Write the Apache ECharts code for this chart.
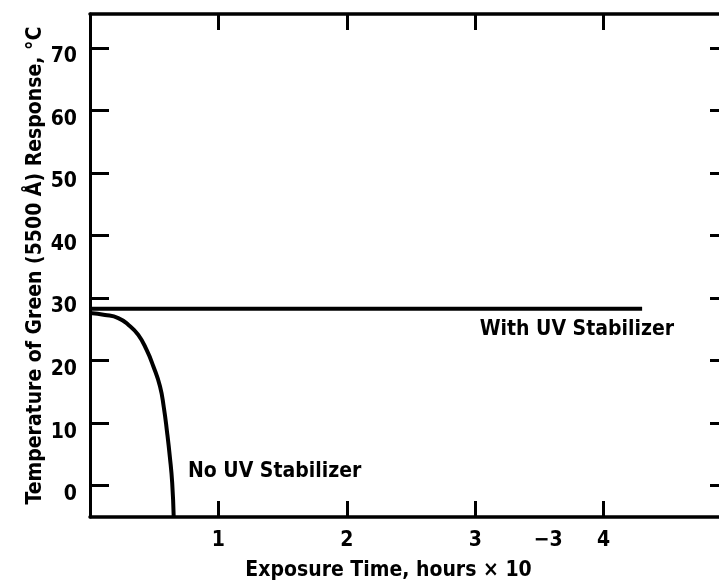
<!DOCTYPE html>
<html>
<head>
<meta charset="utf-8">
<title>Green response vs exposure time</title>
<script src="https://cdn.jsdelivr.net/npm/echarts@6/dist/echarts.min.js"></script>
<style>
  html, body { margin: 0; padding: 0; background: #fff; }
  #chart { width: 719px; height: 584px; }
</style>
</head>
<body>
<div id="chart"></div>
<script>
// Exposure time (hours x 10^-3) and temperature of green (5500 Å) response, °C
const timeWithUV = [0, 4.3];
const tempWithUV = [28.3, 28.3];

const timeNoUV = [0, 0.117, 0.22, 0.30, 0.376, 0.441, 0.493, 0.545, 0.575, 0.600, 0.622, 0.640, 0.652];
const tempNoUV = [27.6, 27.3, 26.8, 25.7, 24.1, 21.7, 19.1, 15.9, 12.5, 8.6, 4.6, 0.5, -5];

const xTicks = [1, 2, 3, 4];
const yTicks = [0, 10, 20, 30, 40, 50, 60, 70];

const noteText = ['With UV Stabilizer', 'No UV Stabilizer'];
const noteTime = [3.035, 0.763];
const noteTemp = [24.9, 2.2];

const FONT = '"Liberation Sans Narrow", "DejaVu Sans Condensed", "Roboto Condensed", sans-serif';
const INK = '#000';

const pairs = (xs, ys) => xs.map((x, i) => [x, ys[i]]);

const chart = echarts.init(document.getElementById('chart'), null, { renderer: 'canvas' });

const textBase = { color: INK, fontFamily: FONT, fontWeight: 'bold', fontSize: 21 };

chart.setOption({
  animation: false,
  backgroundColor: '#fff',
  grid: { left: 90, top: 14, right: -13, bottom: 67, containLabel: false, outerBoundsMode: 'none' },
  xAxis: [
    {
      type: 'value', position: 'bottom', min: 0, max: 5,
      axisLine: { show: true, onZero: false, lineStyle: { color: INK, width: 3.5 } },
      axisTick: { show: true, inside: true, length: 16, customValues: xTicks, lineStyle: { color: INK, width: 3 } },
      axisLabel: { show: true, customValues: xTicks, margin: 13, ...textBase },
      splitLine: { show: false },
      name: '{n|Exposure Time, hours × 10}{s|−3}',
      nameLocation: 'middle',
      nameGap: 13,
      nameMoveOverlap: false,
      nameTextStyle: {
        ...textBase,
        padding: [0, 14, 0, 0],
        rich: {
          n: { ...textBase, verticalAlign: 'bottom' },
          s: { ...textBase, verticalAlign: 'bottom', padding: [0, 0, 30, 2] }
        }
      }
    },
    {
      type: 'value', position: 'top', min: 0, max: 5,
      axisLine: { show: true, onZero: false, lineStyle: { color: INK, width: 3.5 } },
      axisTick: { show: true, inside: true, length: 16, customValues: xTicks, lineStyle: { color: INK, width: 3 } },
      axisLabel: { show: false },
      splitLine: { show: false }
    }
  ],
  yAxis: [
    {
      type: 'value', position: 'left', min: -5, max: 75.4,
      axisLine: { show: true, onZero: false, lineStyle: { color: INK, width: 3 } },
      axisTick: { show: true, inside: true, length: 19, customValues: yTicks, lineStyle: { color: INK, width: 3 } },
      axisLabel: {
        show: true, customValues: yTicks, margin: 13, ...textBase,
        formatter: v => `{v|${v}}`,
        rich: { v: { ...textBase, padding: [18, 0, 0, 0] } }
      },
      splitLine: { show: false },
      name: 'Temperature of Green (5500 Å) Response, °C',
      nameLocation: 'middle',
      nameRotate: 90,
      nameGap: 44,
      nameMoveOverlap: false,
      nameTextStyle: { ...textBase }
    },
    {
      type: 'value', position: 'right', min: -5, max: 75.4,
      axisLine: { show: true, onZero: false, lineStyle: { color: INK, width: 3 } },
      axisTick: { show: true, inside: true, length: 22, customValues: yTicks, lineStyle: { color: INK, width: 3 } },
      axisLabel: { show: false },
      splitLine: { show: false }
    }
  ],
  series: [
    {
      name: 'With UV Stabilizer',
      type: 'line',
      data: pairs(timeWithUV, tempWithUV),
      showSymbol: false,
      lineStyle: { color: INK, width: 4 },
      z: 3
    },
    {
      name: 'No UV Stabilizer',
      type: 'line',
      data: pairs(timeNoUV, tempNoUV),
      smooth: 0.5,
      showSymbol: false,
      lineStyle: { color: INK, width: 4 },
      z: 3
    },
    {
      name: 'notes',
      type: 'scatter',
      symbolSize: 0,
      data: noteText.map((t, i) => ({ value: [noteTime[i], noteTemp[i]], name: t })),
      label: {
        show: true,
        position: 'right',
        distance: 0,
        formatter: p => p.name,
        ...textBase,
        opacity: 1
      },
      itemStyle: { color: INK, opacity: 1 },
      silent: true,
      z: 4
    }
  ]
});
</script>
</body>
</html>
